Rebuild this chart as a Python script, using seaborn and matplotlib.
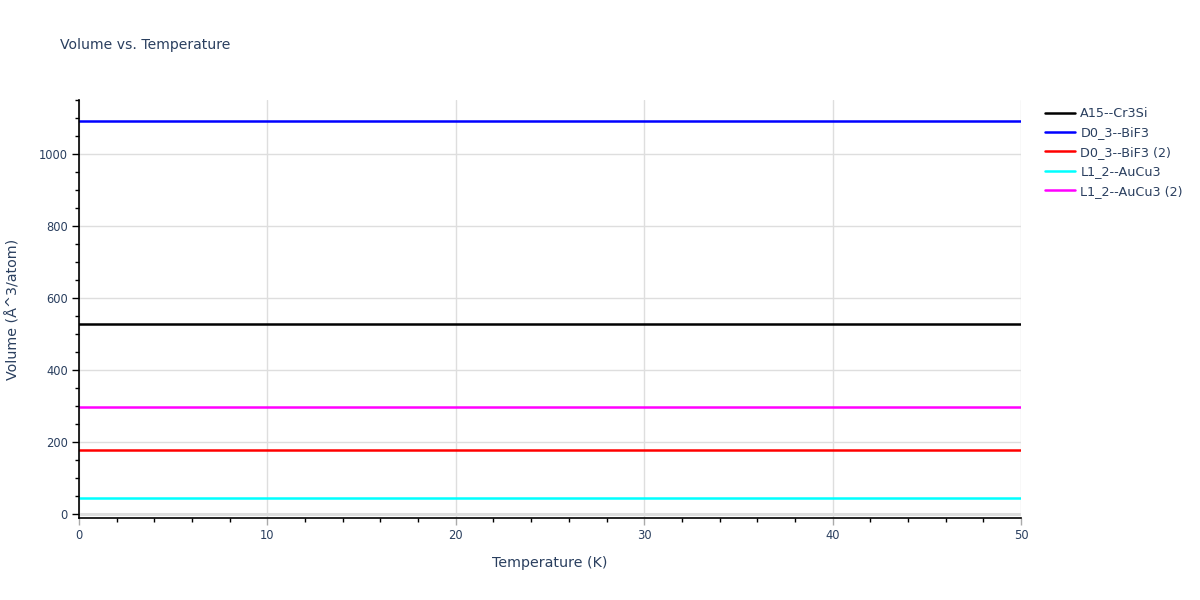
import matplotlib
matplotlib.use("Agg")
import matplotlib.pyplot as plt
import seaborn as sns
import pandas as pd
from matplotlib.ticker import MultipleLocator

temperature = [0, 10, 20, 30, 40, 50]
series_names = ["A15--Cr3Si", "D0_3--BiF3", "D0_3--BiF3 (2)", "L1_2--AuCu3", "L1_2--AuCu3 (2)"]
vol_a15 = [528, 528, 528, 528, 528, 528]
vol_d03 = [1092, 1092, 1092, 1092, 1092, 1092]
vol_d03_2 = [178, 178, 178, 178, 178, 178]
vol_l12 = [44, 44, 44, 44, 44, 44]
vol_l12_2 = [297, 297, 297, 297, 297, 297]
colors = ["#000000", "#0000ff", "#ff0000", "#00ffff", "#ff00ff"]

rows = []
for name, vals in zip(series_names, [vol_a15, vol_d03, vol_d03_2, vol_l12, vol_l12_2]):
    for t, v in zip(temperature, vals):
        rows.append({"Temperature": t, "Volume": v, "Series": name})
df = pd.DataFrame(rows)

sns.set_theme(style="white")
plt.rcParams["font.family"] = ["DejaVu Sans"]
text_color = "#2a3f5f"

fig = plt.figure(figsize=(12, 6), dpi=100)
ax = fig.add_axes([79/1200, 1 - 518/600, (1021-79)/1200, (518-100)/600])

sns.lineplot(data=df, x="Temperature", y="Volume", hue="Series",
             hue_order=series_names, palette=colors, linewidth=1.8, ax=ax)

ax.set_xlim(0, 50)
ax.set_ylim(-11, 1150)
ax.xaxis.set_major_locator(MultipleLocator(10))
ax.xaxis.set_minor_locator(MultipleLocator(2))
ax.yaxis.set_major_locator(MultipleLocator(200))
ax.yaxis.set_minor_locator(MultipleLocator(50))

ax.grid(True, which="major", color="#dedede", linewidth=1)
ax.axhline(0, color="#dedede", linewidth=2.2, zorder=0.5)
ax.set_axisbelow(True)

for s in ["top", "right"]:
    ax.spines[s].set_visible(False)
for s in ["left", "bottom"]:
    ax.spines[s].set_color("black")
    ax.spines[s].set_linewidth(1.2)

ax.tick_params(axis="both", which="major", direction="out", length=5, width=1,
               color="black", labelcolor=text_color, labelsize=8.3, pad=3)
ax.tick_params(axis="both", which="minor", direction="out", length=3, width=1,
               color="black")
ax.tick_params(axis="x", which="major", color="#aaaaaa")
ax.tick_params(left=True, bottom=True, which="both")

ax.set_xlabel("Temperature (K)", color=text_color, fontsize=10.3, labelpad=10)
ax.set_ylabel("Volume (Å^3/atom)", color=text_color, fontsize=10.3, labelpad=13)

fig.text(60/1200, 1 - 45/600, "Volume vs. Temperature", color=text_color,
         fontsize=10.1, va="center", ha="left")

leg = ax.legend(loc="upper left", bbox_to_anchor=(1040/1200, 1 - 102/600),
                bbox_transform=fig.transFigure, frameon=False, fontsize=9.2,
                handlelength=2.35, handletextpad=0.4, labelspacing=0.5,
                borderaxespad=0)
for t in leg.get_texts():
    t.set_color(text_color)

fig.savefig("out.png", dpi=100)
